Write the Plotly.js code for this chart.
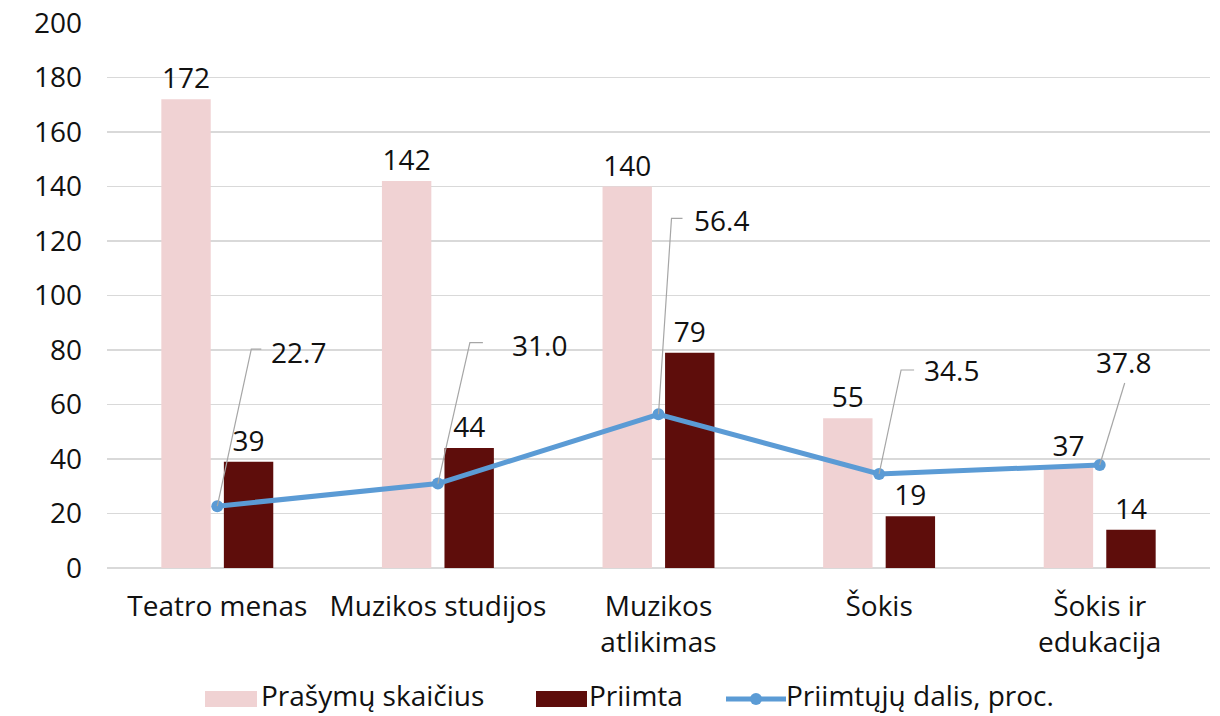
<!DOCTYPE html>
<html>
<head>
<meta charset="utf-8">
<script src="https://cdn.plot.ly/plotly-3.0.1.min.js"></script>
<style>
  html, body { margin: 0; padding: 0; background: #fff; }
  #chart { width: 1220px; height: 716px; }
</style>
</head>
<body>
<div id="chart"></div>
<script>
// ---- data ----
const categories = ["Teatro menas", "Muzikos studijos", "Muzikos<br>atlikimas", "Šokis", "Šokis ir<br>edukacija"];
const applications = [172, 142, 140, 55, 37];   // Prašymų skaičius
const admitted = [39, 44, 79, 19, 14];           // Priimta
const admittedShare = [22.7, 31.0, 56.4, 34.5, 37.8]; // Priimtųjų dalis, proc.
const seriesNames = ["Prašymų skaičius", "Priimta", "Priimtųjų dalis, proc."];

// ---- styling / label placement (pixel offsets from each line point) ----
const leaderOffsets = [
  {dx: 34, up: 157, hx: 44, tx: 52, ty: 154, anchor: "left"},
  {dx: 32, up: 141, hx: 45, tx: 72, ty: 139, anchor: "left"},
  {dx: 13, up: 196, hx: 24, tx: 33, ty: 194, anchor: "left"},
  {dx: 22, up: 104, hx: 35, tx: 43, ty: 104, anchor: "left"},
  {dx: 25, up: 82,  hx: 25, tx: 24, ty: 103, anchor: "center"}
];
const FONT = "Open Sans, Roboto, sans-serif";
const FS = 28;
const COLORS = ["#F0D2D3", "#5E0D0B", "#5B9BD5"];

const M = {l: 107, r: 10, t: 23, b: 148};
const W = 1220, H = 716;
const PW = W - M.l - M.r, PH = H - M.t - M.b;
const px2x = p => (p - M.l) / PW;
const px2y = p => (H - M.b - p) / PH;

const traces = [
  {
    type: "bar", name: seriesNames[0], x: categories, y: applications,
    marker: {color: COLORS[0]},
    text: applications.map(String),
    textposition: "outside", cliponaxis: false,
    textfont: {family: FONT, size: FS, color: "#111"},
    hoverinfo: "skip", showlegend: false
  },
  {
    type: "bar", name: seriesNames[1], x: categories, y: admitted,
    marker: {color: COLORS[1]},
    text: admitted.map(String),
    textposition: "outside", cliponaxis: false,
    textfont: {family: FONT, size: FS, color: "#111"},
    hoverinfo: "skip", showlegend: false
  },
  {
    type: "scatter", mode: "lines+markers", name: seriesNames[2],
    x: categories, y: admittedShare,
    line: {color: COLORS[2], width: 5},
    marker: {color: COLORS[2], size: 12},
    cliponaxis: false,
    hoverinfo: "skip", showlegend: false
  }
];

const shapes = [];
const annotations = [];
admittedShare.forEach((v, i) => {
  const o = leaderOffsets[i];
  let path = "M0,0 L" + o.dx + "," + o.up;
  if (o.hx !== o.dx) path += " L" + o.hx + "," + o.up;
  shapes.push({
    type: "path", xref: "x", yref: "y",
    xsizemode: "pixel", ysizemode: "pixel",
    xanchor: categories[i], yanchor: v,
    path: path,
    line: {color: "#A6A6A6", width: 1.2},
    layer: "above"
  });
  annotations.push({
    x: categories[i], y: v, xref: "x", yref: "y",
    text: v.toFixed(1), showarrow: false,
    xanchor: o.anchor, yanchor: "middle",
    xshift: o.tx, yshift: o.ty,
    font: {family: FONT, size: FS, color: "#111"}
  });
});

// ---- custom legend (layout, pixel positions) ----
const legendY = 699;   // symbol centre
const legendTextY = 695; // text box centre
const legendItems = [
  {kind: "rect", x0: 205, x1: 257, tx: 260},
  {kind: "rect", x0: 536, x1: 587, tx: 588},
  {kind: "line", x0: 726, x1: 786, tx: 785}
];
legendItems.forEach((it, i) => {
  if (it.kind === "rect") {
    shapes.push({
      type: "rect", xref: "paper", yref: "paper",
      x0: px2x(it.x0), x1: px2x(it.x1),
      y0: px2y(legendY + 8), y1: px2y(legendY - 8),
      fillcolor: COLORS[i], line: {width: 0}
    });
  } else {
    shapes.push({
      type: "line", xref: "paper", yref: "paper",
      x0: px2x(it.x0), x1: px2x(it.x1),
      y0: px2y(legendY), y1: px2y(legendY),
      line: {color: COLORS[i], width: 5}
    });
    const cx = (it.x0 + it.x1) / 2;
    shapes.push({
      type: "circle", xref: "paper", yref: "paper",
      x0: px2x(cx - 6), x1: px2x(cx + 6),
      y0: px2y(legendY + 6), y1: px2y(legendY - 6),
      fillcolor: COLORS[i], line: {width: 0}
    });
  }
  annotations.push({
    xref: "paper", yref: "paper",
    x: px2x(it.tx), y: px2y(legendTextY),
    xanchor: "left", yanchor: "middle",
    text: seriesNames[i], showarrow: false, borderpad: 0,
    font: {family: FONT, size: FS, color: "#111"}
  });
});

const layout = {
  width: W, height: H,
  margin: M,
  paper_bgcolor: "#fff", plot_bgcolor: "#fff",
  font: {family: FONT, size: FS, color: "#111"},
  barmode: "group", bargap: 0.433, bargroupgap: 0.21,
  showlegend: false,
  xaxis: {
    type: "category", showgrid: false, showline: false, zeroline: false,
    ticks: "", tickfont: {family: FONT, size: FS, color: "#111"},
    ticklabelstandoff: 19, fixedrange: true
  },
  yaxis: {
    range: [0, 200], dtick: 20, showgrid: true,
    gridcolor: "#D9D9D9", gridwidth: 1.5,
    zeroline: true, zerolinecolor: "#D9D9D9", zerolinewidth: 1.5,
    showline: false, ticks: "",
    tickfont: {family: FONT, size: FS, color: "#111"},
    ticklabelstandoff: 24, fixedrange: true
  },
  shapes: shapes,
  annotations: annotations
};

Plotly.newPlot("chart", traces, layout, {displayModeBar: false, staticPlot: true});
</script>
</body>
</html>
